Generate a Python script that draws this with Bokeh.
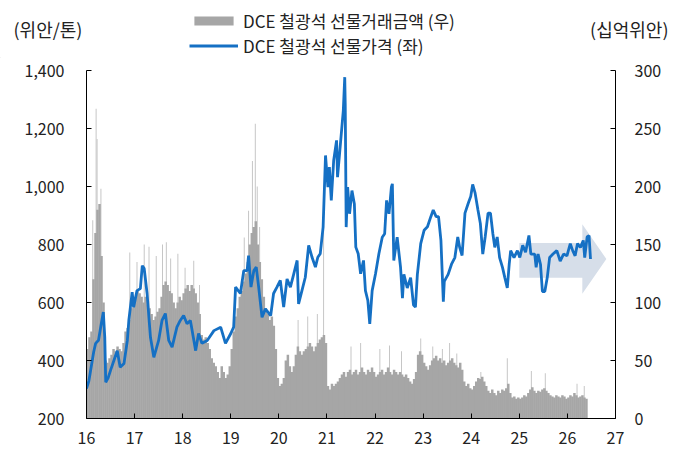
from bokeh.plotting import figure
from bokeh.layouts import column
from bokeh.models import (Range1d, LinearAxis, FixedTicker, NumeralTickFormatter,
                          Label, Legend, LegendItem)
from bokeh.embed import file_html
from bokeh.resources import INLINE

FONT = "Noto Sans CJK KR"
TXT = "#222222"
BAR_COLOR = "#a6a6a6"
LINE_COLOR = "#1570c4"

# ---------------- data ----------------
# DCE iron ore futures price (yuan/ton), x = year position (16 = 2016)
price_t = [16.00, 16.05, 16.10, 16.15, 16.19, 16.25, 16.30, 16.35, 16.38, 16.40,
           16.45, 16.50, 16.57, 16.64, 16.70, 16.78, 16.85, 16.88, 16.95, 16.98,
           17.05, 17.12, 17.16, 17.20, 17.26, 17.33, 17.40, 17.50, 17.57, 17.64,
           17.71, 17.78, 17.88, 17.95, 18.02, 18.09, 18.16, 18.27, 18.33, 18.40,
           18.51, 18.65, 18.79, 18.89, 19.00, 19.06, 19.10, 19.20, 19.27, 19.34,
           19.37, 19.42, 19.48, 19.53, 19.58, 19.65, 19.72, 19.83, 19.89, 19.96,
           20.03, 20.10, 20.17, 20.24, 20.31, 20.38, 20.41, 20.48, 20.55, 20.62,
           20.69, 20.76, 20.81, 20.86, 20.92, 20.97, 21.02, 21.05, 21.09, 21.14,
           21.20, 21.22, 21.28, 21.34, 21.37, 21.38, 21.40, 21.43, 21.47, 21.52,
           21.57, 21.60, 21.65, 21.70, 21.76, 21.80, 21.85, 21.89, 21.94, 22.01,
           22.08, 22.15, 22.20, 22.24, 22.29, 22.34, 22.36, 22.39, 22.46, 22.53,
           22.57, 22.60, 22.67, 22.74, 22.80, 22.84, 22.88, 22.95, 23.02, 23.09,
           23.16, 23.21, 23.27, 23.32, 23.37, 23.42, 23.44, 23.52, 23.59, 23.66,
           23.72, 23.76, 23.81, 23.87, 23.94, 23.99, 24.03, 24.08, 24.14, 24.19,
           24.24, 24.29, 24.35, 24.40, 24.45, 24.49, 24.54, 24.59, 24.65, 24.70,
           24.75, 24.79, 24.82, 24.89, 24.96, 25.01, 25.07, 25.13, 25.20, 25.24,
           25.32, 25.35, 25.39, 25.44, 25.48, 25.53, 25.58, 25.63, 25.70, 25.78,
           25.85, 25.92, 25.99, 26.06, 26.11, 26.16, 26.21, 26.27, 26.33, 26.36,
           26.41, 26.45, 26.48]
price_v = [303, 330, 380, 430, 459, 470, 520, 567, 480, 325,
           340, 366, 400, 434, 377, 390, 470, 538, 636, 584,
           641, 648, 727, 717, 631, 480, 411, 469, 538, 562,
           469, 446, 515, 538, 555, 527, 538, 434, 493, 459,
           469, 503, 515, 459, 493, 515, 653, 631, 710, 710,
           762, 653, 710, 722, 653, 549, 578, 555, 631, 653,
           676, 584, 681, 653, 699, 745, 595, 641, 687, 797,
           756, 722, 756, 768, 860, 1107, 998, 1067, 952, 1090,
           1159, 1032, 1147, 1262, 1377, 1285, 860, 998, 906, 986,
           940, 791, 768, 699, 745, 641, 607, 526, 641, 699,
           768, 825, 837, 952, 906, 998, 1009, 745, 825, 722,
           615, 697, 650, 686, 591, 584, 697, 803, 849, 861,
           896, 919, 896, 896, 814, 603, 673, 697, 732, 755,
           826, 790, 762, 908, 943, 966, 1007, 978, 919, 872,
           767, 826, 908, 908, 837, 790, 826, 755, 721, 685,
           650, 732, 779, 755, 779, 755, 797, 773, 831, 767,
           767, 721, 767, 732, 638, 638, 685, 755, 767, 779,
           743, 767, 761, 803, 779, 761, 803, 790, 814, 755,
           826, 831, 750]

# DCE iron ore futures turnover (bn yuan), semi-monthly readings per year
turnover_16 = [60, 70, 75, 120, 160, 180, 185, 140, 100, 50, 48, 52,
               55, 60, 58, 62, 60, 58, 65, 75, 78, 85, 95, 100]
turnover_17 = [105, 110, 108, 105, 100, 105, 98, 95, 90, 85, 88, 92,
               95, 105, 115, 118, 115, 110, 108, 100, 95, 100, 105, 102]
turnover_18 = [108, 112, 115, 110, 115, 112, 108, 100, 90, 72, 68, 70,
               65, 60, 52, 48, 45, 40, 35, 45, 40, 35, 38, 45]
turnover_19 = [60, 75, 88, 95, 105, 110, 118, 125, 135, 150, 160, 165,
               170, 150, 135, 120, 105, 95, 90, 85, 88, 80, 60, 35]
turnover_20 = [28, 30, 35, 50, 55, 45, 40, 45, 55, 62, 58, 55,
               58, 60, 62, 65, 62, 58, 62, 65, 68, 70, 72, 65]
turnover_21 = [28, 25, 30, 28, 30, 32, 35, 38, 40, 36, 40, 42,
               38, 40, 42, 38, 40, 44, 40, 38, 42, 40, 44, 40]
turnover_22 = [36, 38, 40, 42, 38, 40, 44, 40, 38, 42, 40, 38,
               40, 38, 36, 38, 35, 32, 30, 34, 40, 55, 58, 55]
turnover_23 = [48, 45, 42, 46, 50, 52, 54, 50, 52, 48, 50, 46,
               48, 50, 52, 48, 46, 44, 48, 42, 32, 28, 30, 26]
turnover_24 = [25, 28, 32, 35, 34, 36, 32, 28, 24, 22, 25, 22,
               20, 24, 22, 25, 24, 26, 30, 22, 18, 19, 17, 18]
turnover_25 = [17, 18, 20, 19, 22, 25, 27, 24, 22, 24, 23, 25,
               26, 24, 22, 20, 19, 18, 20, 19, 18, 20, 19, 17]
turnover_26 = [18, 20, 19, 22, 20, 18, 19, 20, 18, 17]
turnover_years = [16, 17, 18, 19, 20, 21, 22, 23, 24, 25, 26]

# single-day turnover spikes (bn yuan)
spike_t = [16.13, 16.20, 16.22, 16.30, 16.90, 17.05, 17.20, 17.30, 17.45, 17.58,
           17.66, 17.75, 17.90, 18.05, 18.23, 18.35, 19.28, 19.37, 19.45, 19.51,
           19.55, 19.60, 20.40, 20.60, 20.80, 20.93, 21.50, 21.70, 22.10, 22.30,
           22.55, 22.95, 23.20, 23.40, 23.55, 23.70, 24.20, 24.75, 25.25, 25.54,
           26.20, 26.35]
spike_v = [171, 267, 241, 198, 143, 135, 150, 148, 140, 150,
           152, 138, 142, 130, 136, 115, 156, 179, 222, 254,
           200, 165, 85, 88, 90, 166, 62, 65, 60, 63,
           58, 69, 62, 60, 65, 56, 40, 52, 41, 39,
           30, 28]

# outlook arrow (left-axis units)
arrow_x = [25.0, 26.31, 26.31, 26.81, 26.31, 26.31, 25.0]
arrow_y = [805, 805, 870, 750, 630, 685, 685]

x_ticks = [16, 17, 18, 19, 20, 21, 22, 23, 24, 25, 26, 27]
left_ticks = [200, 400, 600, 800, 1000, 1200, 1400]
right_ticks = [0, 50, 100, 150, 200, 250, 300]

legend_bar = "DCE 철광석 선물거래금액 (우)"
legend_line = "DCE 철광석 선물가격 (좌)"
left_unit = "(위안/톤)"
right_unit = "(십억위안)"

# ---------------- header (legend + unit captions) ----------------
W = 680
HEAD_H = 58
head = figure(width=W, height=HEAD_H, output_backend="svg", toolbar_location=None,
              x_range=Range1d(0, W), y_range=Range1d(0, HEAD_H),
              x_axis_type=None, y_axis_type=None, min_border=0)
if "frame_align" in head.properties():
    head.frame_align = False
head.outline_line_color = None
head.xgrid.visible = False
head.ygrid.visible = False

# off-range key renderers: they only supply the legend swatches
key_bar = head.vbar(x=[-1000], top=[1], width=1, fill_color=BAR_COLOR, line_color=None)
key_line = head.line(x=[-1000, -999], y=[1, 1], line_color=LINE_COLOR, line_width=2.8)


def make_legend(label, rend, loc):
    return Legend(items=[LegendItem(label=label, renderers=[rend])],
                  location=loc, glyph_width=49, glyph_height=11,
                  label_standoff=5, spacing=0, padding=0, margin=0,
                  border_line_color=None, background_fill_alpha=0,
                  label_text_font=FONT, label_text_font_size="17px",
                  label_text_color=TXT)


head.add_layout(make_legend(legend_bar, key_bar, (189, 25)))
head.add_layout(make_legend(legend_line, key_line, (189, 0)))
head.add_layout(Label(x=13, y=30, x_units="screen", y_units="screen",
                      text=left_unit, text_font=FONT, text_font_size="18px",
                      text_color=TXT, text_align="left", text_baseline="middle"))
head.add_layout(Label(x=668, y=30, x_units="screen", y_units="screen",
                      text=right_unit, text_font=FONT, text_font_size="18px",
                      text_color=TXT, text_align="right", text_baseline="middle"))

# ---------------- main chart ----------------
turn_lists = [turnover_16, turnover_17, turnover_18, turnover_19, turnover_20,
              turnover_21, turnover_22, turnover_23, turnover_24, turnover_25,
              turnover_26]
bar_x, bar_v = [], []
for yr, vals in zip(turnover_years, turn_lists):
    for i, v in enumerate(vals):
        bar_x.append(yr + (i + 0.5) / 24.0)
        bar_v.append(v)

p = figure(width=W, height=450 - HEAD_H, output_backend="svg", toolbar_location=None,
           x_range=Range1d(16, 27), y_range=Range1d(200, 1400),
           min_border_left=86, min_border_right=65, min_border_top=12,
           min_border_bottom=32)
if "frame_align" in p.properties():
    p.frame_align = False
p.outline_line_color = None
p.xgrid.visible = False
p.ygrid.visible = False

p.extra_y_ranges = {"right": Range1d(0, 300)}

p.vbar(x=spike_t, top=spike_v, bottom=0, width=0.02,
       fill_color="#c4c4c4", line_color=None, y_range_name="right")
p.vbar(x=bar_x, top=bar_v, bottom=0, width=1 / 24.0 + 0.01,
       fill_color=BAR_COLOR, line_color=None, y_range_name="right")
p.patch(arrow_x, arrow_y, fill_color="#d6dee9", line_color=None)
p.line(price_t, price_v, line_color=LINE_COLOR, line_width=2.8)


def style_axis(ax):
    ax.axis_line_color = "#000000"
    ax.axis_line_width = 1
    ax.major_tick_line_color = "#000000"
    ax.major_tick_in = 5
    ax.major_tick_out = 0
    ax.minor_tick_line_color = None
    ax.major_label_text_font = FONT
    ax.major_label_text_font_size = "16px"
    ax.major_label_text_color = TXT


p.xaxis.ticker = FixedTicker(ticks=x_ticks)
p.yaxis.ticker = FixedTicker(ticks=left_ticks)
p.yaxis.formatter = NumeralTickFormatter(format="0,0")
style_axis(p.xaxis[0])
style_axis(p.yaxis[0])
p.xaxis.major_label_standoff = 13
p.yaxis.major_label_standoff = 22

rax = LinearAxis(y_range_name="right", ticker=FixedTicker(ticks=right_ticks))
style_axis(rax)
rax.major_label_standoff = 19
p.add_layout(rax, "right")

layout = column(head, p, spacing=0)
open("out.html", "w").write(file_html(layout, INLINE))
